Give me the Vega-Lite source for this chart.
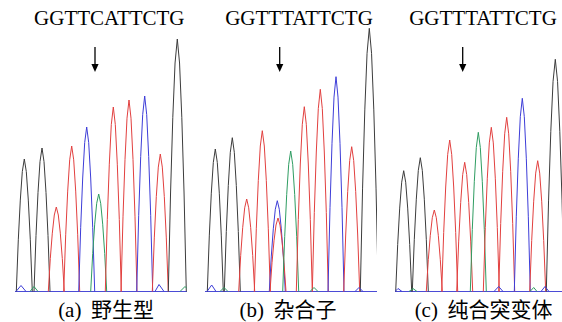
{
  "$schema": "https://vega.github.io/schema/vega-lite/v6.json",
  "padding": {"left": 14, "right": 0, "top": 0, "bottom": 0},
  "spacing": 16,
  "config": {"view": {"stroke": null}},
  "datasets": {
    "a": [
      {"i":"a1","b":"G","x":1.3,"y":0},{"i":"a1","b":"G","x":3.3,"y":51.7},{"i":"a1","b":"G","x":5.3,"y":91.4},{"i":"a1","b":"G","x":7.3,"y":119.9},{"i":"a1","b":"G","x":9.3,"y":132.5},{"i":"a1","b":"G","x":11.3,"y":119.9},{"i":"a1","b":"G","x":13.3,"y":91.4},{"i":"a1","b":"G","x":15.3,"y":51.7},{"i":"a1","b":"G","x":17.3,"y":0},
      {"i":"a2","b":"G","x":19,"y":0},{"i":"a2","b":"G","x":21,"y":56},{"i":"a2","b":"G","x":23,"y":99},{"i":"a2","b":"G","x":25,"y":129.9},{"i":"a2","b":"G","x":27,"y":143.5},{"i":"a2","b":"G","x":29,"y":129.9},{"i":"a2","b":"G","x":31,"y":99},{"i":"a2","b":"G","x":33,"y":56},{"i":"a2","b":"G","x":35,"y":0},
      {"i":"a3","b":"T","x":33.3,"y":0},{"i":"a3","b":"T","x":35.3,"y":33},{"i":"a3","b":"T","x":37.3,"y":58.3},{"i":"a3","b":"T","x":39.3,"y":76.5},{"i":"a3","b":"T","x":41.3,"y":84.5},{"i":"a3","b":"T","x":43.3,"y":76.5},{"i":"a3","b":"T","x":45.3,"y":58.3},{"i":"a3","b":"T","x":47.3,"y":33},{"i":"a3","b":"T","x":49.3,"y":0},
      {"i":"a4","b":"T","x":48.7,"y":0},{"i":"a4","b":"T","x":50.7,"y":56.7},{"i":"a4","b":"T","x":52.7,"y":100.4},{"i":"a4","b":"T","x":54.7,"y":131.7},{"i":"a4","b":"T","x":56.7,"y":145.5},{"i":"a4","b":"T","x":58.7,"y":131.7},{"i":"a4","b":"T","x":60.7,"y":100.4},{"i":"a4","b":"T","x":62.7,"y":56.7},{"i":"a4","b":"T","x":64.7,"y":0},
      {"i":"a5","b":"C","x":63.7,"y":0},{"i":"a5","b":"C","x":65.7,"y":64.2},{"i":"a5","b":"C","x":67.7,"y":113.5},{"i":"a5","b":"C","x":69.7,"y":148.9},{"i":"a5","b":"C","x":71.7,"y":164.5},{"i":"a5","b":"C","x":73.7,"y":148.9},{"i":"a5","b":"C","x":75.7,"y":113.5},{"i":"a5","b":"C","x":77.7,"y":64.2},{"i":"a5","b":"C","x":79.7,"y":0},
      {"i":"a6","b":"A","x":75.7,"y":0},{"i":"a6","b":"A","x":77.7,"y":38},{"i":"a6","b":"A","x":79.7,"y":67.3},{"i":"a6","b":"A","x":81.7,"y":88.2},{"i":"a6","b":"A","x":83.7,"y":97.5},{"i":"a6","b":"A","x":85.7,"y":88.2},{"i":"a6","b":"A","x":87.7,"y":67.3},{"i":"a6","b":"A","x":89.7,"y":38},{"i":"a6","b":"A","x":91.7,"y":0},
      {"i":"a7","b":"T","x":90.3,"y":0},{"i":"a7","b":"T","x":92.3,"y":72},{"i":"a7","b":"T","x":94.3,"y":127.3},{"i":"a7","b":"T","x":96.3,"y":167},{"i":"a7","b":"T","x":98.3,"y":184.5},{"i":"a7","b":"T","x":100.3,"y":167},{"i":"a7","b":"T","x":102.3,"y":127.3},{"i":"a7","b":"T","x":104.3,"y":72},{"i":"a7","b":"T","x":106.3,"y":0},
      {"i":"a8","b":"T","x":106,"y":0},{"i":"a8","b":"T","x":108,"y":74.7},{"i":"a8","b":"T","x":110,"y":132.1},{"i":"a8","b":"T","x":112,"y":173.3},{"i":"a8","b":"T","x":114,"y":191.5},{"i":"a8","b":"T","x":116,"y":173.3},{"i":"a8","b":"T","x":118,"y":132.1},{"i":"a8","b":"T","x":120,"y":74.7},{"i":"a8","b":"T","x":122,"y":0},
      {"i":"a9","b":"C","x":121.7,"y":0},{"i":"a9","b":"C","x":123.7,"y":76.2},{"i":"a9","b":"C","x":125.7,"y":134.9},{"i":"a9","b":"C","x":127.7,"y":176.9},{"i":"a9","b":"C","x":129.7,"y":195.5},{"i":"a9","b":"C","x":131.7,"y":176.9},{"i":"a9","b":"C","x":133.7,"y":134.9},{"i":"a9","b":"C","x":135.7,"y":76.2},{"i":"a9","b":"C","x":137.7,"y":0},
      {"i":"a10","b":"T","x":137.3,"y":0},{"i":"a10","b":"T","x":139.3,"y":53.6},{"i":"a10","b":"T","x":141.3,"y":94.9},{"i":"a10","b":"T","x":143.3,"y":124.4},{"i":"a10","b":"T","x":145.3,"y":137.5},{"i":"a10","b":"T","x":147.3,"y":124.4},{"i":"a10","b":"T","x":149.3,"y":94.9},{"i":"a10","b":"T","x":151.3,"y":53.6},{"i":"a10","b":"T","x":153.3,"y":0},
      {"i":"a11","b":"G","x":153.3,"y":0},{"i":"a11","b":"G","x":155.55,"y":98.5},{"i":"a11","b":"G","x":157.8,"y":174.2},{"i":"a11","b":"G","x":160.05,"y":228.5},{"i":"a11","b":"G","x":162.3,"y":252.5},{"i":"a11","b":"G","x":164.55,"y":228.5},{"i":"a11","b":"G","x":166.8,"y":174.2},{"i":"a11","b":"G","x":169.05,"y":98.5},{"i":"a11","b":"G","x":171.3,"y":0},
      {"i":"an1","b":"C","x":1,"y":0},{"i":"an1","b":"C","x":6,"y":6},{"i":"an1","b":"C","x":11,"y":0},
      {"i":"an2","b":"A","x":15,"y":0},{"i":"an2","b":"A","x":19,"y":5},{"i":"an2","b":"A","x":23,"y":0},
      {"i":"an3","b":"C","x":140,"y":0},{"i":"an3","b":"C","x":144,"y":7},{"i":"an3","b":"C","x":149,"y":0},
      {"i":"an4","b":"A","x":165,"y":0},{"i":"an4","b":"A","x":170,"y":5},{"i":"an4","b":"A","x":172,"y":3}
    ],
    "b": [
      {"i":"b1","b":"G","x":2.3,"y":0},{"i":"b1","b":"G","x":4.3,"y":55.6},{"i":"b1","b":"G","x":6.3,"y":98.3},{"i":"b1","b":"G","x":8.3,"y":129},{"i":"b1","b":"G","x":10.3,"y":142.5},{"i":"b1","b":"G","x":12.3,"y":129},{"i":"b1","b":"G","x":14.3,"y":98.3},{"i":"b1","b":"G","x":16.3,"y":55.6},{"i":"b1","b":"G","x":18.3,"y":0},
      {"i":"b2","b":"G","x":19.3,"y":0},{"i":"b2","b":"G","x":21.3,"y":60},{"i":"b2","b":"G","x":23.3,"y":106.1},{"i":"b2","b":"G","x":25.3,"y":139.2},{"i":"b2","b":"G","x":27.3,"y":153.8},{"i":"b2","b":"G","x":29.3,"y":139.2},{"i":"b2","b":"G","x":31.3,"y":106.1},{"i":"b2","b":"G","x":33.3,"y":60},{"i":"b2","b":"G","x":35.3,"y":0},
      {"i":"b3","b":"T","x":33.7,"y":0},{"i":"b3","b":"T","x":35.7,"y":36.1},{"i":"b3","b":"T","x":37.7,"y":63.8},{"i":"b3","b":"T","x":39.7,"y":83.7},{"i":"b3","b":"T","x":41.7,"y":92.5},{"i":"b3","b":"T","x":43.7,"y":83.7},{"i":"b3","b":"T","x":45.7,"y":63.8},{"i":"b3","b":"T","x":47.7,"y":36.1},{"i":"b3","b":"T","x":49.7,"y":0},
      {"i":"b4","b":"T","x":49.3,"y":0},{"i":"b4","b":"T","x":51.3,"y":62.7},{"i":"b4","b":"T","x":53.3,"y":111},{"i":"b4","b":"T","x":55.3,"y":145.5},{"i":"b4","b":"T","x":57.3,"y":160.8},{"i":"b4","b":"T","x":59.3,"y":145.5},{"i":"b4","b":"T","x":61.3,"y":111},{"i":"b4","b":"T","x":63.3,"y":62.7},{"i":"b4","b":"T","x":65.3,"y":0},
      {"i":"b5","b":"C","x":64.3,"y":0},{"i":"b5","b":"C","x":66.3,"y":35.4},{"i":"b5","b":"C","x":68.3,"y":62.7},{"i":"b5","b":"C","x":70.3,"y":82.2},{"i":"b5","b":"C","x":72.3,"y":90.8},{"i":"b5","b":"C","x":74.3,"y":82.2},{"i":"b5","b":"C","x":76.3,"y":62.7},{"i":"b5","b":"C","x":78.3,"y":35.4},{"i":"b5","b":"C","x":80.3,"y":0},
      {"i":"b5t","b":"T","x":65,"y":0},{"i":"b5t","b":"T","x":67,"y":28.7},{"i":"b5t","b":"T","x":69,"y":50.7},{"i":"b5t","b":"T","x":71,"y":66.5},{"i":"b5t","b":"T","x":73,"y":73.5},{"i":"b5t","b":"T","x":75,"y":66.5},{"i":"b5t","b":"T","x":77,"y":50.7},{"i":"b5t","b":"T","x":79,"y":28.7},{"i":"b5t","b":"T","x":81,"y":0},
      {"i":"b6","b":"A","x":77.7,"y":0},{"i":"b6","b":"A","x":79.7,"y":54.8},{"i":"b6","b":"A","x":81.7,"y":96.9},{"i":"b6","b":"A","x":83.7,"y":127.2},{"i":"b6","b":"A","x":85.7,"y":140.5},{"i":"b6","b":"A","x":87.7,"y":127.2},{"i":"b6","b":"A","x":89.7,"y":96.9},{"i":"b6","b":"A","x":91.7,"y":54.8},{"i":"b6","b":"A","x":93.7,"y":0},
      {"i":"b7","b":"T","x":91.3,"y":0},{"i":"b7","b":"T","x":93.3,"y":72.1},{"i":"b7","b":"T","x":95.3,"y":127.5},{"i":"b7","b":"T","x":97.3,"y":167.2},{"i":"b7","b":"T","x":99.3,"y":184.8},{"i":"b7","b":"T","x":101.3,"y":167.2},{"i":"b7","b":"T","x":103.3,"y":127.5},{"i":"b7","b":"T","x":105.3,"y":72.1},{"i":"b7","b":"T","x":107.3,"y":0},
      {"i":"b8","b":"T","x":107.3,"y":0},{"i":"b8","b":"T","x":109.3,"y":78.9},{"i":"b8","b":"T","x":111.3,"y":139.5},{"i":"b8","b":"T","x":113.3,"y":183},{"i":"b8","b":"T","x":115.3,"y":202.2},{"i":"b8","b":"T","x":117.3,"y":183},{"i":"b8","b":"T","x":119.3,"y":139.5},{"i":"b8","b":"T","x":121.3,"y":78.9},{"i":"b8","b":"T","x":123.3,"y":0},
      {"i":"b9","b":"C","x":123,"y":0},{"i":"b9","b":"C","x":125,"y":83.8},{"i":"b9","b":"C","x":127,"y":148.2},{"i":"b9","b":"C","x":129,"y":194.4},{"i":"b9","b":"C","x":131,"y":214.8},{"i":"b9","b":"C","x":133,"y":194.4},{"i":"b9","b":"C","x":135,"y":148.2},{"i":"b9","b":"C","x":137,"y":83.8},{"i":"b9","b":"C","x":139,"y":0},
      {"i":"b10","b":"T","x":138.7,"y":0},{"i":"b10","b":"T","x":140.7,"y":56.5},{"i":"b10","b":"T","x":142.7,"y":99.9},{"i":"b10","b":"T","x":144.7,"y":131},{"i":"b10","b":"T","x":146.7,"y":144.8},{"i":"b10","b":"T","x":148.7,"y":131},{"i":"b10","b":"T","x":150.7,"y":99.9},{"i":"b10","b":"T","x":152.7,"y":56.5},{"i":"b10","b":"T","x":154.7,"y":0},
      {"i":"b11","b":"G","x":155.3,"y":0},{"i":"b11","b":"G","x":157.55,"y":102.6},{"i":"b11","b":"G","x":159.8,"y":181.6},{"i":"b11","b":"G","x":162.05,"y":238.2},{"i":"b11","b":"G","x":164.3,"y":263.2},{"i":"b11","b":"G","x":166.55,"y":238.2},{"i":"b11","b":"G","x":168.8,"y":181.6},{"i":"b11","b":"G","x":171.05,"y":102.6},{"i":"b11","b":"G","x":173.3,"y":0},
      {"i":"bn1","b":"C","x":2,"y":0},{"i":"bn1","b":"C","x":6.7,"y":6.5},{"i":"bn1","b":"C","x":11,"y":0},
      {"i":"bn2","b":"A","x":15,"y":0},{"i":"bn2","b":"A","x":19,"y":4},{"i":"bn2","b":"A","x":23,"y":0},
      {"i":"bn3","b":"A","x":105,"y":0},{"i":"bn3","b":"A","x":109,"y":4},{"i":"bn3","b":"A","x":113,"y":0},
      {"i":"bn4","b":"C","x":150,"y":0},{"i":"bn4","b":"C","x":154,"y":4},{"i":"bn4","b":"C","x":158,"y":0}
    ],
    "c": [
      {"i":"c1","b":"G","x":0.7,"y":0},{"i":"c1","b":"G","x":2.7,"y":47.1},{"i":"c1","b":"G","x":4.7,"y":83.4},{"i":"c1","b":"G","x":6.7,"y":109.3},{"i":"c1","b":"G","x":8.7,"y":120.8},{"i":"c1","b":"G","x":10.7,"y":109.3},{"i":"c1","b":"G","x":12.7,"y":83.4},{"i":"c1","b":"G","x":14.7,"y":47.1},{"i":"c1","b":"G","x":16.7,"y":0},
      {"i":"c2","b":"G","x":17.3,"y":0},{"i":"c2","b":"G","x":19.3,"y":52.2},{"i":"c2","b":"G","x":21.3,"y":92.3},{"i":"c2","b":"G","x":23.3,"y":121.1},{"i":"c2","b":"G","x":25.3,"y":133.8},{"i":"c2","b":"G","x":27.3,"y":121.1},{"i":"c2","b":"G","x":29.3,"y":92.3},{"i":"c2","b":"G","x":31.3,"y":52.2},{"i":"c2","b":"G","x":33.3,"y":0},
      {"i":"c3","b":"T","x":31.3,"y":0},{"i":"c3","b":"T","x":33.3,"y":31.8},{"i":"c3","b":"T","x":35.3,"y":56.2},{"i":"c3","b":"T","x":37.3,"y":73.8},{"i":"c3","b":"T","x":39.3,"y":81.5},{"i":"c3","b":"T","x":41.3,"y":73.8},{"i":"c3","b":"T","x":43.3,"y":56.2},{"i":"c3","b":"T","x":45.3,"y":31.8},{"i":"c3","b":"T","x":47.3,"y":0},
      {"i":"c4","b":"T","x":46.7,"y":0},{"i":"c4","b":"T","x":48.7,"y":59.1},{"i":"c4","b":"T","x":50.7,"y":104.5},{"i":"c4","b":"T","x":52.7,"y":137.1},{"i":"c4","b":"T","x":54.7,"y":151.5},{"i":"c4","b":"T","x":56.7,"y":137.1},{"i":"c4","b":"T","x":58.7,"y":104.5},{"i":"c4","b":"T","x":60.7,"y":59.1},{"i":"c4","b":"T","x":62.7,"y":0},
      {"i":"c5","b":"T","x":61.7,"y":0},{"i":"c5","b":"T","x":63.7,"y":50.4},{"i":"c5","b":"T","x":65.7,"y":89.1},{"i":"c5","b":"T","x":67.7,"y":116.9},{"i":"c5","b":"T","x":69.7,"y":129.2},{"i":"c5","b":"T","x":71.7,"y":116.9},{"i":"c5","b":"T","x":73.7,"y":89.1},{"i":"c5","b":"T","x":75.7,"y":50.4},{"i":"c5","b":"T","x":77.7,"y":0},
      {"i":"c6","b":"A","x":75.3,"y":0},{"i":"c6","b":"A","x":77.3,"y":62.1},{"i":"c6","b":"A","x":79.3,"y":109.8},{"i":"c6","b":"A","x":81.3,"y":144.1},{"i":"c6","b":"A","x":83.3,"y":159.2},{"i":"c6","b":"A","x":85.3,"y":144.1},{"i":"c6","b":"A","x":87.3,"y":109.8},{"i":"c6","b":"A","x":89.3,"y":62.1},{"i":"c6","b":"A","x":91.3,"y":0},
      {"i":"c7","b":"T","x":88.3,"y":0},{"i":"c7","b":"T","x":90.3,"y":64},{"i":"c7","b":"T","x":92.3,"y":113.3},{"i":"c7","b":"T","x":94.3,"y":148.6},{"i":"c7","b":"T","x":96.3,"y":164.2},{"i":"c7","b":"T","x":98.3,"y":148.6},{"i":"c7","b":"T","x":100.3,"y":113.3},{"i":"c7","b":"T","x":102.3,"y":64},{"i":"c7","b":"T","x":104.3,"y":0},
      {"i":"c8","b":"T","x":103.7,"y":0},{"i":"c8","b":"T","x":105.7,"y":67.9},{"i":"c8","b":"T","x":107.7,"y":120.2},{"i":"c8","b":"T","x":109.7,"y":157.7},{"i":"c8","b":"T","x":111.7,"y":174.2},{"i":"c8","b":"T","x":113.7,"y":157.7},{"i":"c8","b":"T","x":115.7,"y":120.2},{"i":"c8","b":"T","x":117.7,"y":67.9},{"i":"c8","b":"T","x":119.7,"y":0},
      {"i":"c9","b":"C","x":119.3,"y":0},{"i":"c9","b":"C","x":121.3,"y":75.3},{"i":"c9","b":"C","x":123.3,"y":133.3},{"i":"c9","b":"C","x":125.3,"y":174.8},{"i":"c9","b":"C","x":127.3,"y":193.2},{"i":"c9","b":"C","x":129.3,"y":174.8},{"i":"c9","b":"C","x":131.3,"y":133.3},{"i":"c9","b":"C","x":133.3,"y":75.3},{"i":"c9","b":"C","x":135.3,"y":0},
      {"i":"c10","b":"T","x":134.7,"y":0},{"i":"c10","b":"T","x":136.7,"y":51},{"i":"c10","b":"T","x":138.7,"y":90.3},{"i":"c10","b":"T","x":140.7,"y":118.4},{"i":"c10","b":"T","x":142.7,"y":130.8},{"i":"c10","b":"T","x":144.7,"y":118.4},{"i":"c10","b":"T","x":146.7,"y":90.3},{"i":"c10","b":"T","x":148.7,"y":51},{"i":"c10","b":"T","x":150.7,"y":0},
      {"i":"c11","b":"G","x":151.3,"y":0},{"i":"c11","b":"G","x":153.55,"y":90.6},{"i":"c11","b":"G","x":155.8,"y":160.2},{"i":"c11","b":"G","x":158.05,"y":210.1},{"i":"c11","b":"G","x":160.3,"y":232.2},{"i":"c11","b":"G","x":162.55,"y":210.1},{"i":"c11","b":"G","x":164.8,"y":160.2},{"i":"c11","b":"G","x":167.05,"y":90.6},{"i":"c11","b":"G","x":169.3,"y":0},
      {"i":"cn1","b":"C","x":0,"y":0},{"i":"cn1","b":"C","x":3,"y":3},{"i":"cn1","b":"C","x":7,"y":0},
      {"i":"cn2","b":"A","x":14,"y":0},{"i":"cn2","b":"A","x":18,"y":3},{"i":"cn2","b":"A","x":22,"y":0},
      {"i":"cn3","b":"C","x":99,"y":0},{"i":"cn3","b":"C","x":103.7,"y":5},{"i":"cn3","b":"C","x":108,"y":0},
      {"i":"cn4","b":"A","x":135,"y":0},{"i":"cn4","b":"A","x":138.7,"y":4},{"i":"cn4","b":"A","x":142,"y":0},
      {"i":"cn5","b":"C","x":146,"y":0},{"i":"cn5","b":"C","x":150,"y":5},{"i":"cn5","b":"C","x":154,"y":0}
    ]
  },
  "hconcat": [
    {
      "width": 172, "height": 322,
      "layer": [
        {"data": {"values": [{"y": 0}]}, "mark": {"type": "rule", "color": "#4b4bd6", "strokeWidth": 1}, "encoding": {"y": {"field": "y", "type": "quantitative", "scale": {"domain": [-30.5, 291.5], "nice": false, "zero": false}, "axis": null}}},
        {"data": {"name": "a"}, "mark": {"type": "line", "strokeWidth": 1, "clip": true},
         "encoding": {
           "x": {"field": "x", "type": "quantitative", "scale": {"domain": [0, 172], "nice": false}, "axis": null},
           "y": {"field": "y", "type": "quantitative", "axis": null},
           "detail": {"field": "i"},
           "color": {"field": "b", "type": "nominal", "scale": {"domain": ["G", "A", "T", "C"], "range": ["#3c3c3c", "#2f9d62", "#e2403f", "#3d3dd8"]}, "legend": null}
         }},
        {"data": {"values": [{"x": 80, "y1": 244.5, "y2": 226}]}, "mark": {"type": "rule", "color": "black", "strokeWidth": 1.3}, "encoding": {"x": {"field": "x", "type": "quantitative"}, "y": {"field": "y1", "type": "quantitative"}, "y2": {"field": "y2"}}},
        {"data": {"values": [{"x": 80, "y": 223.5}]}, "mark": {"type": "point", "shape": "M-0.9,-1L0.9,-1L0,1Z", "filled": true, "color": "black", "opacity": 1, "size": 64}, "encoding": {"x": {"field": "x", "type": "quantitative"}, "y": {"field": "y", "type": "quantitative"}}},
        {"data": {"values": [{"x": 94.3, "y": 266.5, "t": "GGTTCATTCTG"}]}, "mark": {"type": "text", "font": "Liberation Serif, Times New Roman, serif", "fontSize": 21, "baseline": "alphabetic", "align": "center", "color": "black"}, "encoding": {"x": {"field": "x", "type": "quantitative"}, "y": {"field": "y", "type": "quantitative"}, "text": {"field": "t"}}},
        {"data": {"values": [{"x": 91, "y": -19.5, "t": "(a) \u2009野生型"}]}, "mark": {"type": "text", "font": "Liberation Serif, Times New Roman, Noto Sans CJK SC", "fontSize": 21, "baseline": "middle", "align": "center", "color": "black"}, "encoding": {"x": {"field": "x", "type": "quantitative"}, "y": {"field": "y", "type": "quantitative"}, "text": {"field": "t"}}}
      ]
    },
    {
      "width": 172, "height": 322,
      "layer": [
        {"data": {"values": [{"y": 0}]}, "mark": {"type": "rule", "color": "#4b4bd6", "strokeWidth": 1}, "encoding": {"y": {"field": "y", "type": "quantitative", "scale": {"domain": [-30.5, 291.5], "nice": false, "zero": false}, "axis": null}}},
        {"data": {"name": "b"}, "mark": {"type": "line", "strokeWidth": 1, "clip": true},
         "encoding": {
           "x": {"field": "x", "type": "quantitative", "scale": {"domain": [0, 172], "nice": false}, "axis": null},
           "y": {"field": "y", "type": "quantitative", "axis": null},
           "detail": {"field": "i"},
           "color": {"field": "b", "type": "nominal", "scale": {"domain": ["G", "A", "T", "C"], "range": ["#3c3c3c", "#2f9d62", "#e2403f", "#3d3dd8"]}, "legend": null}
         }},
        {"data": {"values": [{"x": 74.7, "y1": 244.5, "y2": 226}]}, "mark": {"type": "rule", "color": "black", "strokeWidth": 1.3}, "encoding": {"x": {"field": "x", "type": "quantitative"}, "y": {"field": "y1", "type": "quantitative"}, "y2": {"field": "y2"}}},
        {"data": {"values": [{"x": 74.7, "y": 223.5}]}, "mark": {"type": "point", "shape": "M-0.9,-1L0.9,-1L0,1Z", "filled": true, "color": "black", "opacity": 1, "size": 64}, "encoding": {"x": {"field": "x", "type": "quantitative"}, "y": {"field": "y", "type": "quantitative"}}},
        {"data": {"values": [{"x": 94, "y": 266.5, "t": "GGTTTATTCTG"}]}, "mark": {"type": "text", "font": "Liberation Serif, Times New Roman, serif", "fontSize": 21, "baseline": "alphabetic", "align": "center", "color": "black"}, "encoding": {"x": {"field": "x", "type": "quantitative"}, "y": {"field": "y", "type": "quantitative"}, "text": {"field": "t"}}},
        {"data": {"values": [{"x": 83, "y": -19.5, "t": "(b) \u2009杂合子"}]}, "mark": {"type": "text", "font": "Liberation Serif, Times New Roman, Noto Sans CJK SC", "fontSize": 21, "baseline": "middle", "align": "center", "color": "black"}, "encoding": {"x": {"field": "x", "type": "quantitative"}, "y": {"field": "y", "type": "quantitative"}, "text": {"field": "t"}}}
      ]
    },
    {
      "width": 172, "height": 322,
      "layer": [
        {"data": {"values": [{"y": 0}]}, "mark": {"type": "rule", "color": "#4b4bd6", "strokeWidth": 1}, "encoding": {"y": {"field": "y", "type": "quantitative", "scale": {"domain": [-30.5, 291.5], "nice": false, "zero": false}, "axis": null}}},
        {"data": {"name": "c"}, "mark": {"type": "line", "strokeWidth": 1, "clip": true},
         "encoding": {
           "x": {"field": "x", "type": "quantitative", "scale": {"domain": [0, 172], "nice": false}, "axis": null},
           "y": {"field": "y", "type": "quantitative", "axis": null},
           "detail": {"field": "i"},
           "color": {"field": "b", "type": "nominal", "scale": {"domain": ["G", "A", "T", "C"], "range": ["#3c3c3c", "#2f9d62", "#e2403f", "#3d3dd8"]}, "legend": null}
         }},
        {"data": {"values": [{"x": 67.7, "y1": 244.5, "y2": 226}]}, "mark": {"type": "rule", "color": "black", "strokeWidth": 1.3}, "encoding": {"x": {"field": "x", "type": "quantitative"}, "y": {"field": "y1", "type": "quantitative"}, "y2": {"field": "y2"}}},
        {"data": {"values": [{"x": 67.7, "y": 223.5}]}, "mark": {"type": "point", "shape": "M-0.9,-1L0.9,-1L0,1Z", "filled": true, "color": "black", "opacity": 1, "size": 64}, "encoding": {"x": {"field": "x", "type": "quantitative"}, "y": {"field": "y", "type": "quantitative"}}},
        {"data": {"values": [{"x": 88, "y": 266.5, "t": "GGTTTATTCTG"}]}, "mark": {"type": "text", "font": "Liberation Serif, Times New Roman, serif", "fontSize": 21, "baseline": "alphabetic", "align": "center", "color": "black"}, "encoding": {"x": {"field": "x", "type": "quantitative"}, "y": {"field": "y", "type": "quantitative"}, "text": {"field": "t"}}},
        {"data": {"values": [{"x": 88.5, "y": -19.5, "t": "(c) \u2009纯合突变体"}]}, "mark": {"type": "text", "font": "Liberation Serif, Times New Roman, Noto Sans CJK SC", "fontSize": 21, "baseline": "middle", "align": "center", "color": "black"}, "encoding": {"x": {"field": "x", "type": "quantitative"}, "y": {"field": "y", "type": "quantitative"}, "text": {"field": "t"}}}
      ]
    }
  ]
}
